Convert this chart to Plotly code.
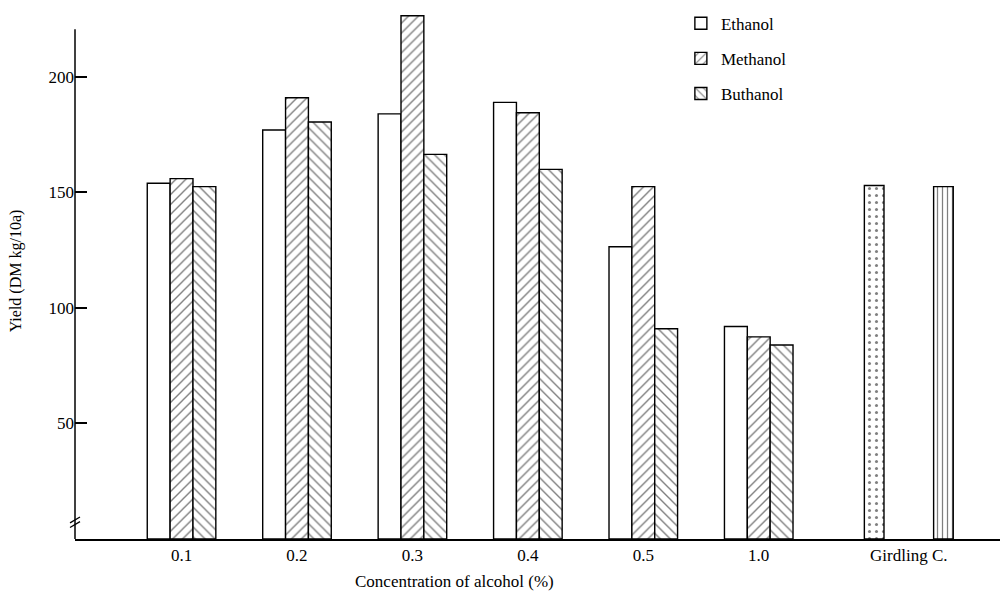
import numpy as np
import plotly.graph_objects as go

# ---- data ----
categories = ["0.1", "0.2", "0.3", "0.4", "0.5", "1.0"]
control_label = "Girdling C."
ethanol = [154, 177, 184, 189, 126.5, 92]
methanol = [156, 191, 226.5, 184.5, 152.5, 87.5]
buthanol = [152.5, 180.5, 166.5, 160, 91, 84]
girdling_dotted = [153]
girdling_striped = [152.5]
y_ticks = [50, 100, 150, 200]

# ---- layout positions ----
idx = np.arange(len(categories))
g_pos = len(categories) + 0.3
w = 0.198
gw = 0.17

line = dict(color="black", width=1.4)
fig = go.Figure()
fig.add_bar(x=idx - w, y=ethanol, width=w, name="Ethanol", legendgroup="a",
            marker=dict(color="white", line=line))
fig.add_bar(x=idx, y=methanol, width=w, name="Methanol", legendgroup="b",
            marker=dict(color="white", line=line,
                        pattern=dict(shape="/", fgcolor="black", bgcolor="white",
                                     size=7, solidity=0.2)))
fig.add_bar(x=idx + w, y=buthanol, width=w, name="Buthanol", legendgroup="c",
            marker=dict(color="white", line=line,
                        pattern=dict(shape="\\", fgcolor="black", bgcolor="white",
                                     size=7, solidity=0.2)))
fig.add_bar(x=[g_pos - 0.3], y=girdling_dotted, width=gw, showlegend=False,
            marker=dict(color="white", line=line,
                        pattern=dict(shape=".", fgcolor="black", bgcolor="white",
                                     size=7, solidity=0.15)))
fig.add_bar(x=[g_pos + 0.3], y=girdling_striped, width=gw, showlegend=False,
            marker=dict(color="white", line=line,
                        pattern=dict(shape="|", fgcolor="black", bgcolor="white",
                                     size=5, solidity=0.25)))

font_family = "Liberation Serif"
fig.update_layout(
    width=1000, height=595,
    margin=dict(l=75, r=0, t=3, b=56),
    paper_bgcolor="white", plot_bgcolor="white",
    barmode="overlay",
    font=dict(family=font_family, size=17, color="black"),
    legend=dict(x=0.655, y=0.995, xanchor="left", yanchor="top",
                font=dict(size=17), tracegroupgap=10, bgcolor="rgba(0,0,0,0)"),
    xaxis=dict(range=[-0.923, 7.09], tickvals=list(idx) + [g_pos],
               ticktext=categories + [control_label], ticks="",
               showline=True, linecolor="black", linewidth=1.5,
               showgrid=False, zeroline=False, tickfont=dict(size=17)),
    yaxis=dict(range=[0, 232], tickvals=y_ticks, ticks="inside", ticklen=12,
               tickwidth=1.5, tickcolor="black", showline=False, showgrid=False,
               zeroline=False, tickfont=dict(size=17),
               title=dict(text="Yield (DM kg/10a)", font=dict(size=16), standoff=22)),
    shapes=[
        dict(type="line", xref="paper", yref="y", x0=0, x1=0, y0=0, y1=220.6,
             line=dict(color="black", width=1.5)),
        dict(type="line", xref="paper", yref="y", xanchor=0, xsizemode="pixel",
             x0=-5, x1=5, y0=7, y1=9.5, line=dict(color="black", width=1.3)),
        dict(type="line", xref="paper", yref="y", xanchor=0, xsizemode="pixel",
             x0=-5, x1=5, y0=5, y1=7.5, line=dict(color="black", width=1.3)),
    ],
    annotations=[
        dict(text="Concentration of alcohol (%)", xref="paper", yref="paper",
             x=0.41, y=0, yshift=-42, showarrow=False, xanchor="center",
             yanchor="middle", font=dict(size=17)),
    ],
)

fig.write_html("out.html")
